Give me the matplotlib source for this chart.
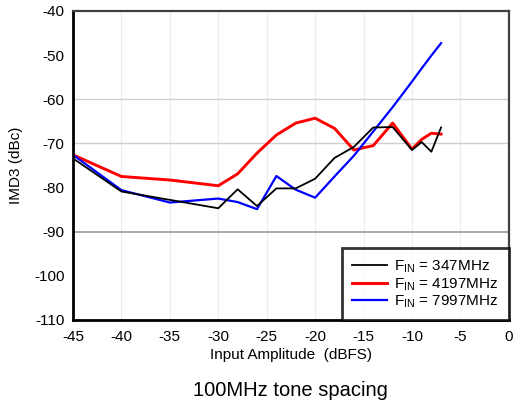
import matplotlib

matplotlib.use("Agg")
import matplotlib.pyplot as plt

plt.rcParams["font.family"] = ["Liberation Sans", "DejaVu Sans"]
plt.rcParams["mathtext.fontset"] = "custom"
plt.rcParams["mathtext.rm"] = "Liberation Sans"
plt.rcParams["axes.unicode_minus"] = False

# ---- data ----
amp_dbfs = [-45, -40, -35, -30, -28, -26, -24, -22, -20, -18, -16, -14, -12, -10, -9, -8, -7]
imd3_347 = [-73.4, -80.9, -82.8, -84.7, -80.4, -84.2, -80.2, -80.2, -78.0, -73.3,
            -70.8, -66.4, -66.3, -71.5, -69.7, -71.9, -66.4]
imd3_4197 = [-72.6, -77.5, -78.3, -79.6, -76.9, -72.2, -68.1, -65.4, -64.3, -66.6,
             -71.5, -70.5, -65.4, -71.3, -69.1, -67.7, -67.9]
imd3_7997 = [-72.6, -80.6, -83.4, -82.5, -83.3, -84.9, -77.4, -80.5, -82.3, -77.5,
             -72.8, -67.3, -61.8, -56.0, -53.0, -50.1, -47.3]
labels = [r"F$_{\mathrm{IN}}$ = 347MHz", r"F$_{\mathrm{IN}}$ = 4197MHz", r"F$_{\mathrm{IN}}$ = 7997MHz"]

xticks = list(range(-45, 1, 5))
yticks = list(range(-110, -39, 10))

fig = plt.figure(figsize=(5.14, 4.05), dpi=100)
ax = fig.add_axes([0.142, 0.210, 0.848, 0.763])

# grid: faint verticals, a few horizontals like the original
for xv in xticks[1:-1]:
    ax.axvline(xv, color="#ececec", lw=0.8, zorder=0)
for yv in (-60, -70):
    ax.axhline(yv, color="#cfcfcf", lw=1.0, zorder=0)
ax.axhline(-90, color="#9a9a9a", lw=1.2, zorder=0)

ax.plot(amp_dbfs, imd3_347, color="black", lw=1.3, label=labels[0], zorder=3)
ax.plot(amp_dbfs, imd3_4197, color="#ff0000", lw=2.1, label=labels[1], zorder=2)
ax.plot(amp_dbfs, imd3_7997, color="#0000ff", lw=1.6, label=labels[2], zorder=2)

ax.set_xlim(-45, 0)
ax.set_ylim(-110, -40)
ax.set_xticks(xticks)
ax.set_yticks(yticks)
ax.tick_params(length=0, labelsize=11, pad=6)
ax.tick_params(axis="x", pad=7)
ax.set_xlabel("Input Amplitude  (dBFS)", fontsize=11, labelpad=3)
ax.set_ylabel("IMD3 (dBc)", fontsize=11, labelpad=8)

for side in ("left", "bottom"):
    ax.spines[side].set_linewidth(2.0)
    ax.spines[side].set_color("black")
for side in ("top", "right"):
    ax.spines[side].set_linewidth(1.6)
    ax.spines[side].set_color("#404040")

leg = ax.legend(loc="lower right", bbox_to_anchor=(1.0, 0.0), fontsize=11,
                frameon=True, fancybox=False, handlelength=2.3, handletextpad=0.5,
                labelspacing=0.05, borderpad=0.65, borderaxespad=0.0)
leg.get_frame().set_edgecolor("black")
leg.get_frame().set_linewidth(2.0)

fig.text(0.565, 0.036, "100MHz tone spacing", ha="center", va="center", fontsize=14.5)

fig.savefig("out.png", dpi=100)
